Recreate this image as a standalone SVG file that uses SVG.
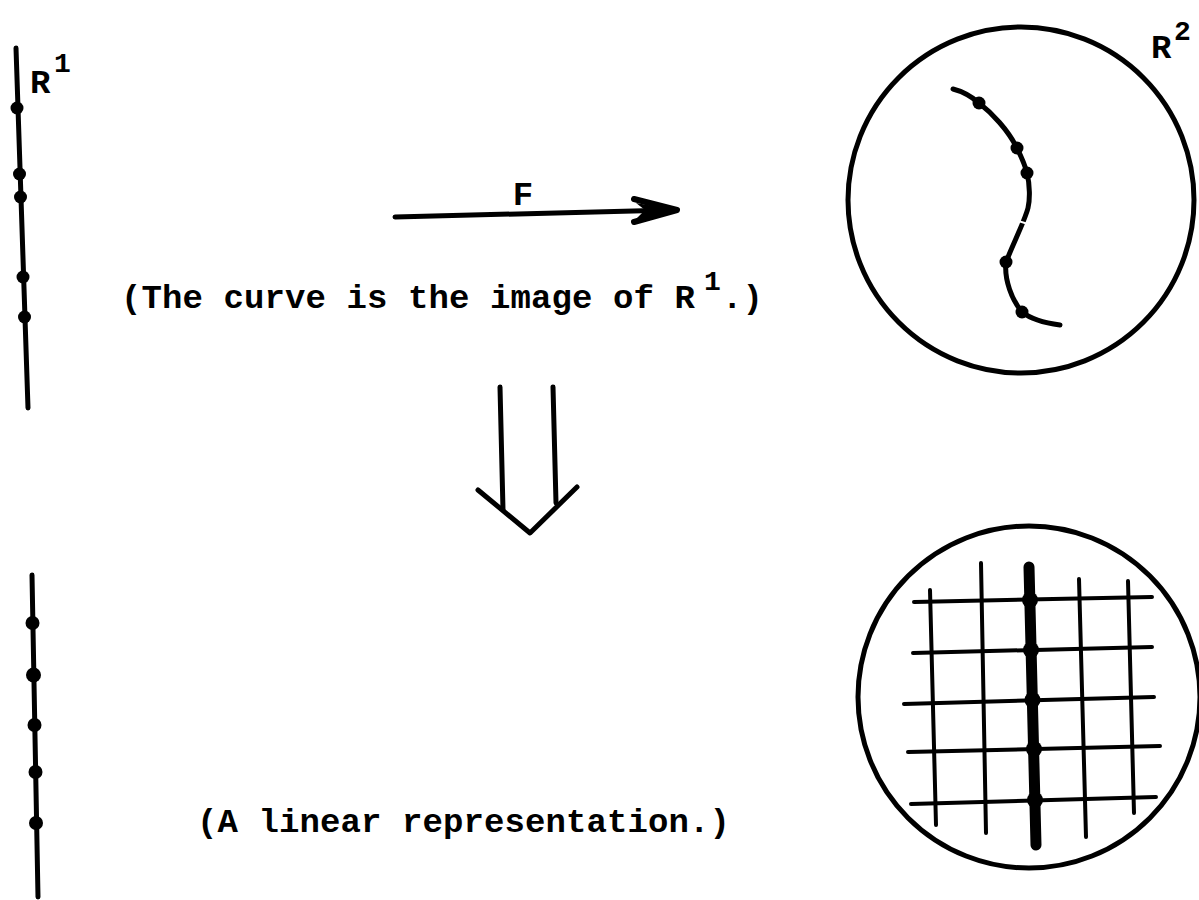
<svg xmlns="http://www.w3.org/2000/svg" width="1199" height="900" viewBox="0 0 1199 900">
<style>
.ink{stroke:#000;fill:none;stroke-linecap:round;stroke-linejoin:round}
.w5{stroke-width:5}
.w4{stroke-width:4}
.dot{fill:#000}
.txt{font-family:"Liberation Mono","DejaVu Sans Mono",monospace;font-size:34px;letter-spacing:0.1px;fill:#000;font-weight:bold}
.sup{font-family:"Liberation Mono","DejaVu Sans Mono",monospace;font-size:28px;fill:#000;font-weight:bold}
</style>
<rect width="1199" height="900" fill="#fff"/>

<g id="r1-top">
<line class="ink w5" x1="16" y1="48" x2="28" y2="408"/>
<circle class="dot" cx="17" cy="108" r="6.5"/>
<circle class="dot" cx="19.5" cy="174" r="6.5"/>
<circle class="dot" cx="20.5" cy="197" r="6.5"/>
<circle class="dot" cx="23" cy="277" r="6.5"/>
<circle class="dot" cx="24.5" cy="317" r="6.5"/>
<text class="txt" x="30" y="93">R</text>
<text class="sup" x="54" y="72">1</text>
</g>

<g id="r2-top">
<circle class="ink w5" cx="1021" cy="200" r="173"/>
<path class="ink w5" d="M953,89 C965,92 972,97 979,103 C992,113 1008,130 1017,148 C1021,156 1025,165 1027,173 C1030,185 1030,200 1028,208 C1025,220 1014,242 1006,262 C1004,280 1012,300 1022,312 C1032,320 1045,323 1060,325"/>
<line x1="1015" y1="220" x2="1028" y2="224" stroke="#fff" stroke-width="2"/>
<circle class="dot" cx="979" cy="103" r="6.5"/>
<circle class="dot" cx="1017" cy="148" r="6.5"/>
<circle class="dot" cx="1027" cy="173" r="6.5"/>
<circle class="dot" cx="1006" cy="262" r="6.5"/>
<circle class="dot" cx="1022" cy="312" r="6.5"/>
<text class="txt" x="1151" y="58">R</text>
<text class="sup" x="1174" y="40">2</text>
</g>

<g id="caption-top">
<text class="txt" x="121" y="308">(The curve is the image of R</text>
<text class="sup" x="704" y="290">1</text>
<text class="txt" x="722" y="308">.)</text>
</g>

<g id="r1-bottom">
<line class="ink w5" x1="32" y1="575" x2="38" y2="897"/>
<circle class="dot" cx="32.5" cy="623" r="7"/>
<circle class="dot" cx="33.5" cy="675" r="7.5"/>
<circle class="dot" cx="34.5" cy="725" r="7"/>
<circle class="dot" cx="35.5" cy="772" r="7"/>
<circle class="dot" cx="36" cy="823" r="7"/>
</g>

<g id="caption-bottom">
<text class="txt" x="197" y="832">(A linear representation.)</text>
</g>

<g id="r2-bottom">
<circle class="ink w5" cx="1029" cy="697" r="171"/>
<g class="ink w4">
<line x1="930" y1="590" x2="936" y2="825"/>
<line x1="981" y1="563" x2="986" y2="833"/>
<line x1="1079" y1="579" x2="1086" y2="837"/>
<line x1="1128" y1="581" x2="1134" y2="813"/>
<line x1="914" y1="602" x2="1152" y2="597"/>
<line x1="913" y1="653" x2="1152" y2="647"/>
<line x1="904" y1="704" x2="1154" y2="697"/>
<line x1="908" y1="752" x2="1160" y2="746"/>
<line x1="911" y1="804" x2="1156" y2="797"/>
</g>
<line class="ink" stroke-width="11" x1="1029" y1="567" x2="1036" y2="845"/>
<circle class="dot" cx="1030" cy="600" r="8"/>
<circle class="dot" cx="1031" cy="650" r="8"/>
<circle class="dot" cx="1032.5" cy="700" r="8"/>
<circle class="dot" cx="1034" cy="749" r="8"/>
<circle class="dot" cx="1035" cy="800" r="8"/>
</g>

<g id="connectors">
<g id="arrow-F">
<line class="ink w5" x1="395" y1="217" x2="672" y2="210"/>
<path class="ink" stroke-width="6" d="M634,199 L677,210 L634,222"/>
<path class="dot" d="M636,203 L677,210 L636,219 L645,210 Z"/>
<text class="txt" x="523" y="205" text-anchor="middle">F</text>
</g>
<g id="arrow-down" class="ink w5">
<line x1="500" y1="387" x2="503" y2="510"/>
<line x1="553" y1="387" x2="556" y2="503"/>
<polyline points="478,490 530,533 577,487"/>
</g>
</g>
</svg>
